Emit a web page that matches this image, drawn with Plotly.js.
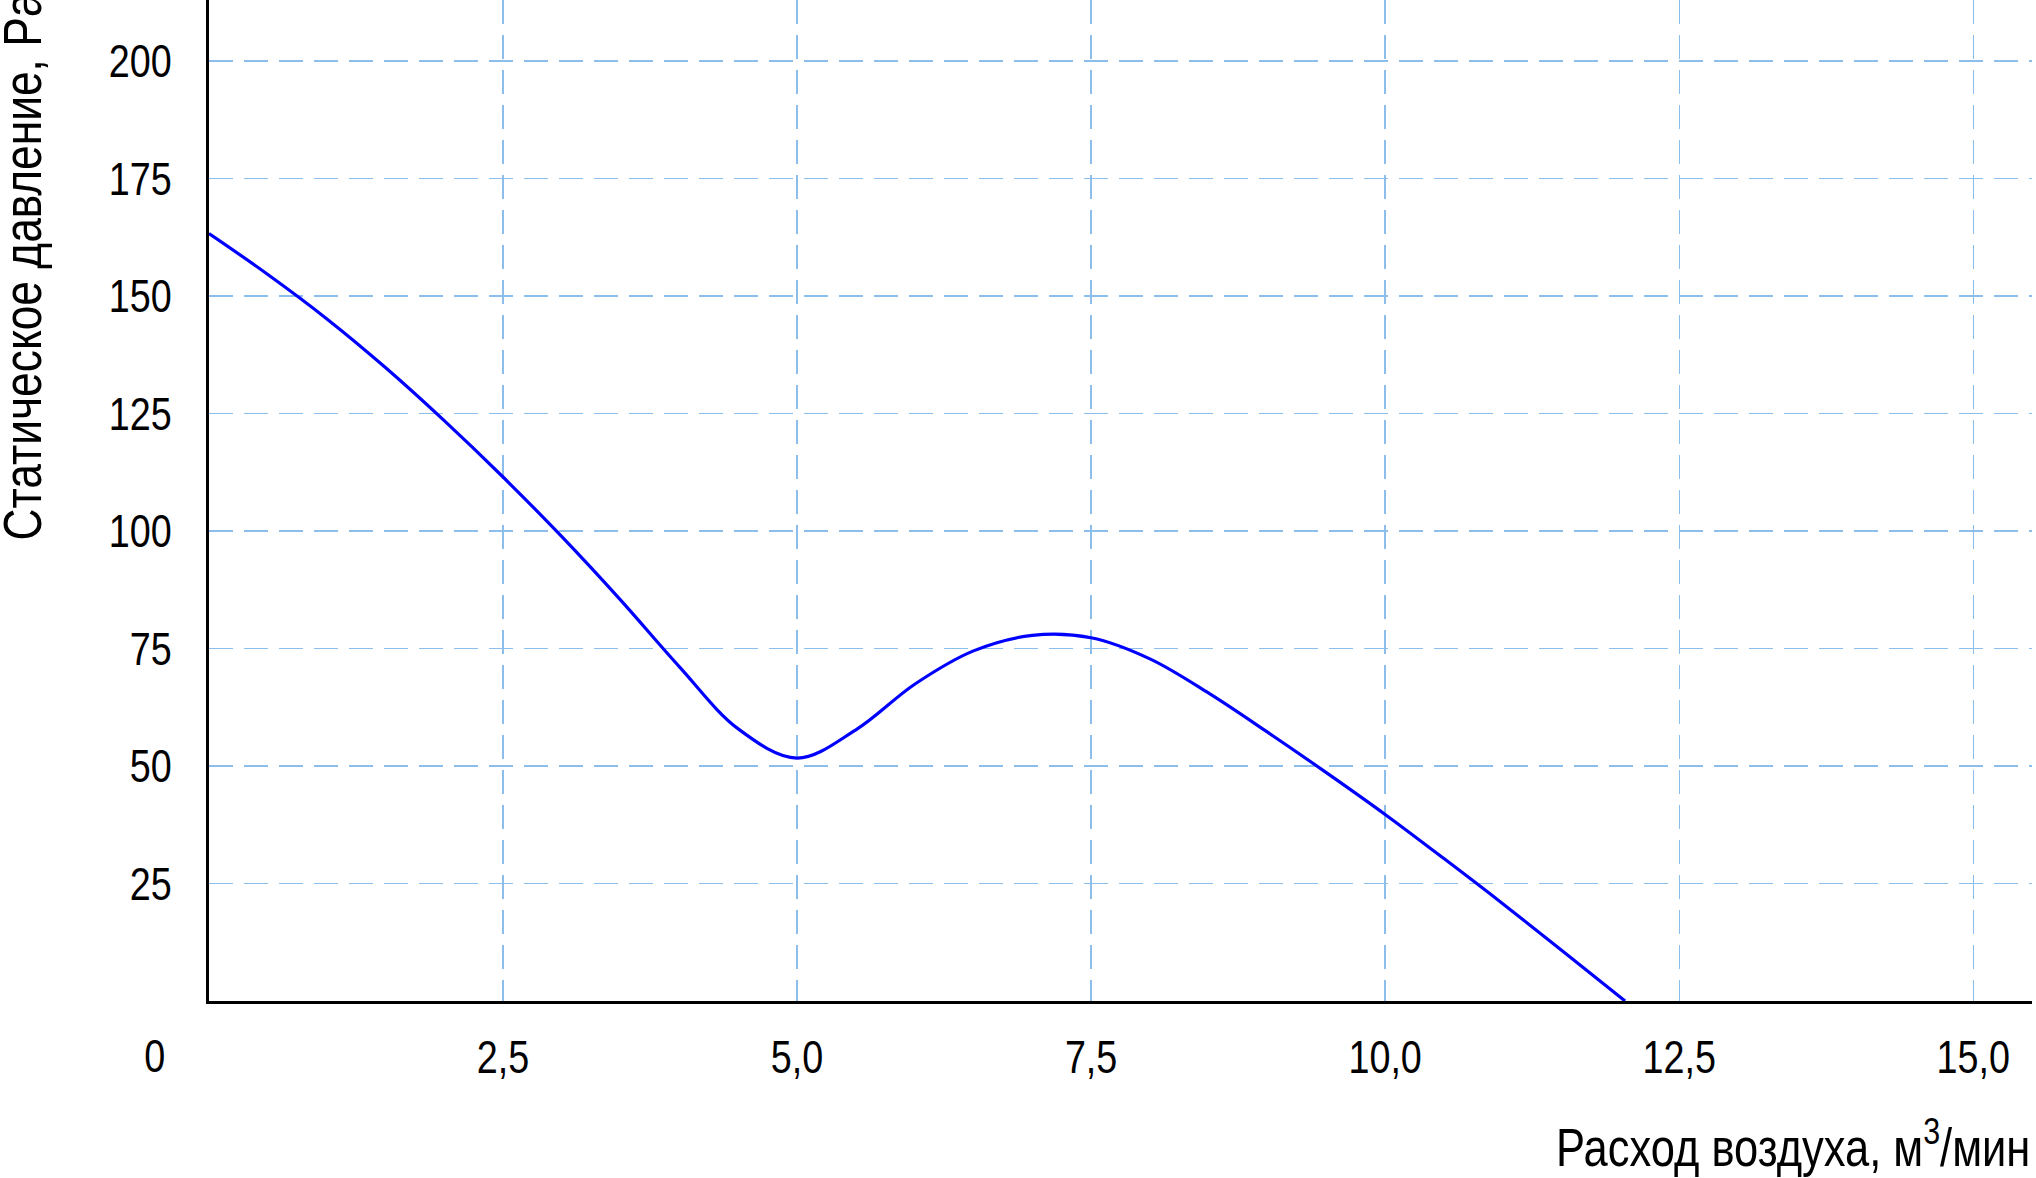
<!DOCTYPE html>
<html>
<head>
<meta charset="utf-8">
<script src="https://cdn.plot.ly/plotly-3.0.1.min.js"></script>
<style>
  html, body { margin: 0; padding: 0; background: #ffffff; }
  #chart { width: 2036px; height: 1178px; }
</style>
</head>
<body>
<div id="chart"></div>
<script>
// Air flow, m3/min
const airflow = [0, 0.5, 1.0, 1.5, 2.0, 2.5, 3.0, 3.5, 4.0, 4.5, 5.0, 5.5, 6.0, 6.5, 7.0, 7.5, 8.0, 8.5, 9.0, 9.5, 10.0, 10.5, 11.0, 11.5, 12.04];
// Static pressure, Pa
const pressure = [163.3, 154.6, 145.2, 134.8, 123.5, 111.5, 98.8, 85.3, 71.1, 57.9, 51.7, 57.7, 67.4, 74.5, 77.8, 77.3, 72.8, 65.5, 57.2, 48.6, 39.7, 30.3, 20.7, 10.8, 0];

const xTickVals = [2.5, 5, 7.5, 10, 12.5, 15];
const xTickText = ["2,5", "5,0", "7,5", "10,0", "12,5", "15,0"];
const yTickVals = [25, 50, 75, 100, 125, 150, 175, 200];
const yTickText = ["25", "50", "75", "100", "125", "150", "175", "200"];
const originLabel = "0";
const xTitle = "Расход воздуха, м<sup>3</sup>/мин";
const yTitle = "Статическое давление, Pa";

const FONT = "'Liberation Sans Narrow', 'Arial Narrow', 'Liberation Sans', Arial, sans-serif";
const gridColor = "rgb(140,190,235)";
const CONDENSE = 0.82;

const trace = {
  x: airflow,
  y: pressure,
  type: "scatter",
  mode: "lines",
  line: { color: "#0000ff", width: 3.2, shape: "spline", smoothing: 1 },
  hoverinfo: "skip",
  showlegend: false
};

const layout = {
  width: 2036,
  height: 1178,
  margin: { l: 209, r: 4, t: 0, b: 177, pad: 0 },
  paper_bgcolor: "#ffffff",
  plot_bgcolor: "#ffffff",
  font: { family: FONT, size: 46, color: "#000000" },
  showlegend: false,
  xaxis: {
    range: [0, 15.5],
    tickmode: "array",
    tickvals: xTickVals,
    ticktext: xTickText,
    ticks: "",
    ticklabelstandoff: 14,
    tickfont: { family: FONT, size: 46, color: "#000000" },
    showgrid: true,
    gridcolor: gridColor,
    gridwidth: 1.3,
    griddash: "24px,11px",
    showline: true,
    linecolor: "#000000",
    linewidth: 3,
    zeroline: false,
    fixedrange: true
  },
  yaxis: {
    range: [0, 213],
    tickmode: "array",
    tickvals: yTickVals,
    ticktext: yTickText,
    ticks: "",
    ticklabelstandoff: 25,
    tickfont: { family: FONT, size: 46, color: "#000000" },
    showgrid: true,
    gridcolor: gridColor,
    gridwidth: 1.3,
    griddash: "24px,11px",
    showline: true,
    linecolor: "#000000",
    linewidth: 3,
    zeroline: false,
    fixedrange: true
  },
  annotations: [
    {
      text: originLabel,
      xref: "x", yref: "paper",
      x: 0, y: 0,
      xshift: -54, yshift: -55,
      xanchor: "center", yanchor: "middle",
      showarrow: false,
      font: { family: FONT, size: 46, color: "#000000" }
    },
    {
      text: xTitle,
      xref: "paper", yref: "paper",
      x: 1, y: 0,
      xshift: 52, yshift: -142,
      xanchor: "right", yanchor: "middle",
      showarrow: false,
      font: { family: FONT, size: 53, color: "#000000" }
    },
    {
      text: yTitle,
      xref: "paper", yref: "paper",
      x: 0, y: 0,
      xshift: -188, yshift: 398,
      xanchor: "center", yanchor: "bottom",
      textangle: -90,
      showarrow: false,
      font: { family: FONT, size: 54, color: "#000000" }
    }
  ]
};

// The reference uses a narrow sans face; squeeze the real text glyphs horizontally.
function condenseTexts() {
  document.querySelectorAll("#chart svg text").forEach(function (t) {
    if (t.getAttribute("data-condensed")) return;
    var len = 0;
    try { len = t.getComputedTextLength(); } catch (e) { len = 0; }
    if (!len) return;
    t.setAttribute("textLength", (len * CONDENSE).toFixed(2));
    t.setAttribute("lengthAdjust", "spacingAndGlyphs");
    t.setAttribute("data-condensed", "1");
  });
}

Plotly.newPlot("chart", [trace], layout, { staticPlot: true, displayModeBar: false })
  .then(condenseTexts);
</script>
</body>
</html>
